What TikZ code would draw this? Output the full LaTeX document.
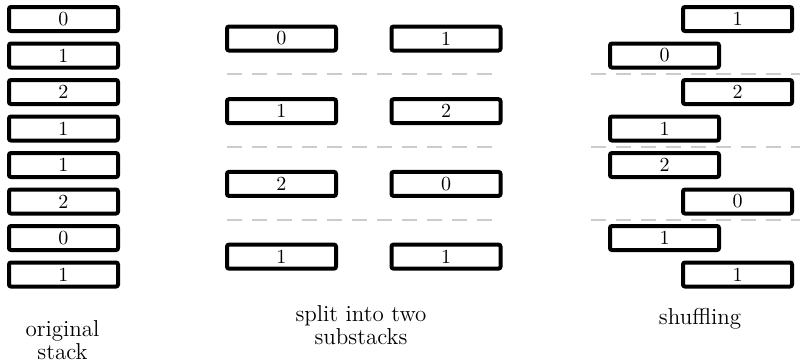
\documentclass[tikz,border=0pt]{standalone}
\begin{document}
\begin{tikzpicture}[x=0.5pt,y=-0.5pt,
  card/.style={draw=black, line width=2pt, rounded corners=1pt, minimum width=54.5pt, minimum height=12pt, inner sep=0pt, font=\fontsize{10}{12}\selectfont},
  sep/.style={draw=black!20, line width=1.2pt, dash pattern=on 7.5pt off 5pt},
  lbl/.style={align=center, font=\fontsize{11.5}{11.5}\selectfont, inner sep=0pt}]
\useasboundingbox (0,0) rectangle (800,361);
% original stack
\foreach \v [count=\i from 0] in {0,1,2,1,1,2,0,1} {
  \node[card] (o\i) at (63.5, 19+36.5*\i) {\v};
}
% split into two substacks
\foreach \a/\b [count=\i from 0] in {0/1,1/2,2/0,1/1} {
  \node[card] (sa\i) at (281.5, 38.5+72.7*\i) {\a};
  \node[card] (sb\i) at (446, 38.5+72.7*\i) {\b};
}
\foreach \y in {74,147,220} {
  \draw[sep] (227,\y) -- (500,\y);
  \draw[sep] (591,\y) -- (800,\y);
}
% shuffling
\foreach \v/\xx [count=\i from 0] in {1/737.5,0/664.5,2/737.5,1/664.5,2/664.5,0/737.5,1/664.5,1/737.5} {
  \node[card] (s\i) at (\xx, 19+36.5*\i) {\v};
}
\node[lbl] (l1) at (62.5,340) {original\\stack};
\node[lbl] (l2) at (361,325) {split into two\\substacks};
\node[lbl] (l3) at (700,319) {shuffling};
\end{tikzpicture}
\end{document}
